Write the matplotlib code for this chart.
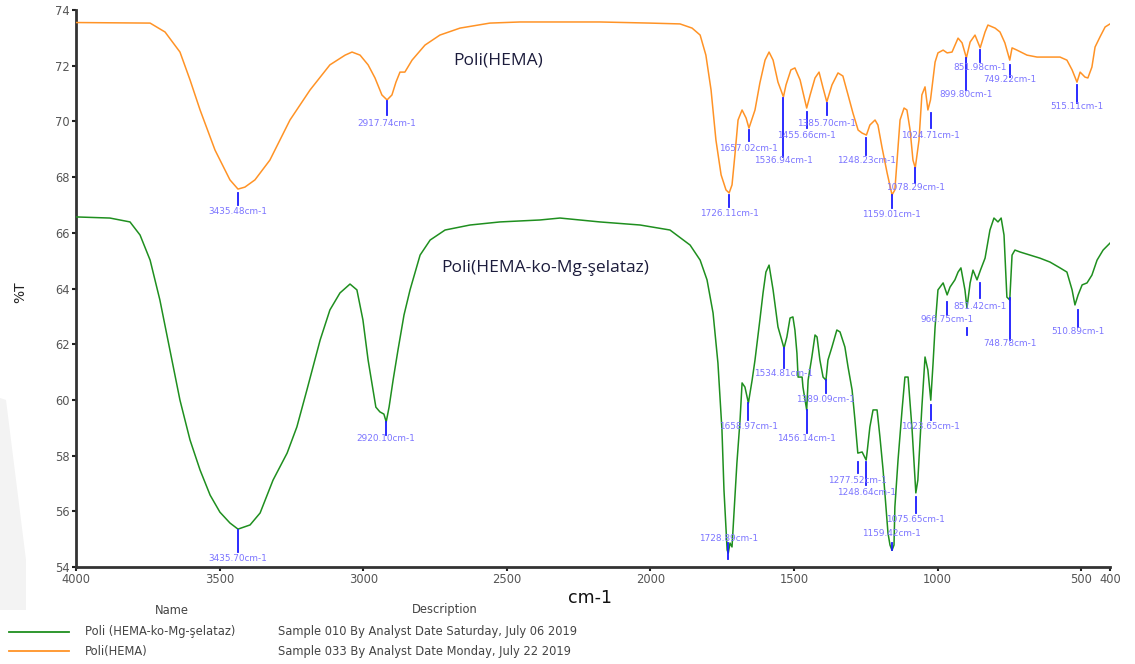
import matplotlib
matplotlib.use("Agg")
import matplotlib.pyplot as plt
from matplotlib.patches import Polygon

plt.rcParams['font.family'] = ['DejaVu Sans']

# ---------------- data ----------------
hema_wn = [4000, 3742, 3690, 3638, 3603, 3568, 3516, 3464, 3436, 3412, 3377, 3325, 3255, 3185,
           3116, 3063, 3039, 3011, 2983, 2959, 2935, 2917, 2900, 2886, 2872, 2855, 2830, 2785,
           2733, 2663, 2559, 2454, 2176, 2002, 1897, 1855, 1827, 1807, 1789, 1772, 1754, 1737,
           1726, 1716, 1706, 1695, 1681, 1667, 1657, 1636, 1619, 1601, 1587, 1573, 1556, 1537,
           1528, 1511, 1497, 1479, 1456, 1444, 1427, 1413, 1399, 1386, 1368, 1347, 1330, 1312,
           1295, 1277, 1263, 1248, 1236, 1218, 1208, 1194, 1176, 1159, 1149, 1142, 1131, 1117,
           1107, 1096, 1086, 1078, 1065, 1055, 1044, 1034, 1025, 1009, 999, 981, 967, 950, 929,
           915, 900, 887, 870, 852, 835, 825, 800, 783, 766, 749, 741, 724, 689, 654, 574, 550,
           532, 515, 504, 487, 477, 463, 452, 435, 417, 400]
hema_t = [73.55, 73.53, 73.21, 72.49, 71.49, 70.41, 68.97, 67.90, 67.57, 67.64, 67.90, 68.61,
          70.05, 71.13, 72.03, 72.38, 72.49, 72.38, 72.03, 71.56, 70.95, 70.77, 70.95, 71.41,
          71.77, 71.77, 72.20, 72.74, 73.10, 73.35, 73.53, 73.57, 73.57, 73.53, 73.50, 73.35,
          73.10, 72.38, 71.13, 69.33, 68.08, 67.54, 67.43, 67.72, 68.79, 70.05, 70.41, 70.12,
          69.76, 70.41, 71.38, 72.20, 72.49, 72.20, 71.41, 70.88, 71.31, 71.85, 71.92, 71.49,
          70.48, 70.95, 71.56, 71.77, 71.20, 70.70, 71.31, 71.74, 71.63, 70.95, 70.30, 69.69,
          69.58, 69.51, 69.87, 70.05, 69.87, 69.08, 68.15, 67.36, 67.54, 68.51, 70.05, 70.48,
          70.41, 69.69, 68.61, 68.33, 69.33, 70.95, 71.24, 70.41, 70.77, 72.13, 72.46, 72.56,
          72.46, 72.49, 72.99, 72.82, 72.28, 72.85, 73.10, 72.64, 73.21, 73.46, 73.35, 73.21,
          72.82, 72.20, 72.64, 72.56, 72.38, 72.31, 72.31, 72.20, 71.85, 71.41, 71.77, 71.59,
          71.56, 71.95, 72.67, 73.03, 73.39, 73.50]

chel_wn = [4000, 3882, 3812, 3777, 3742, 3708, 3673, 3638, 3603, 3568, 3533, 3499, 3464, 3436,
           3394, 3359, 3314, 3265, 3231, 3196, 3150, 3116, 3081, 3046, 3022, 3001, 2983, 2966,
           2956, 2942, 2928, 2920, 2910, 2896, 2879, 2858, 2837, 2802, 2767, 2715, 2628, 2524,
           2385, 2315, 2176, 2036, 1932, 1862, 1827, 1803, 1782, 1765, 1751, 1744, 1733, 1729,
           1723, 1716, 1709, 1699, 1688, 1681, 1671, 1659, 1646, 1636, 1619, 1608, 1598, 1587,
           1573, 1556, 1535, 1525, 1514, 1504, 1497, 1490, 1486, 1472, 1469, 1456, 1451, 1438,
           1427, 1420, 1410, 1399, 1389, 1382, 1368, 1351, 1340, 1323, 1312, 1298, 1288, 1278,
           1263, 1249, 1246, 1236, 1225, 1211, 1201, 1190, 1180, 1173, 1166, 1159, 1152, 1149,
           1138, 1124, 1114, 1103, 1089, 1076, 1069, 1055, 1044, 1034, 1024, 1016, 1009, 999,
           981, 967, 957, 940, 929, 919, 905, 898, 887, 877, 863, 851, 835, 818, 804, 790, 779,
           769, 759, 749, 741, 731, 713, 679, 644, 609, 574, 550, 532, 522, 511, 497, 480, 463,
           445, 424, 400]
chel_t = [66.57, 66.53, 66.39, 65.92, 65.02, 63.59, 61.79, 59.99, 58.56, 57.48, 56.58, 55.97,
          55.58, 55.36, 55.51, 55.94, 57.12, 58.09, 59.03, 60.36, 62.15, 63.23, 63.84, 64.16,
          63.95, 62.87, 61.43, 60.36, 59.74, 59.57, 59.49, 59.21, 59.74, 60.71, 61.79, 63.05,
          63.95, 65.20, 65.74, 66.10, 66.28, 66.39, 66.46, 66.53, 66.39, 66.28, 66.10, 65.56,
          65.02, 64.31, 63.12, 61.32, 58.92, 56.76, 54.61, 54.50, 54.86, 54.72, 55.94, 57.73,
          59.28, 60.61, 60.46, 59.89, 60.71, 61.43, 62.87, 63.84, 64.59, 64.84, 63.95, 62.62,
          61.86, 62.26, 62.94, 62.98, 62.51, 61.68, 60.82, 60.82, 60.46, 59.64, 60.71, 61.54,
          62.33, 62.26, 61.43, 60.82, 60.71, 61.43, 61.90, 62.51, 62.44, 61.90, 61.18, 60.36,
          59.28, 58.09, 58.13, 57.84, 58.09, 59.03, 59.64, 59.64, 58.67, 57.48, 56.15, 55.22,
          54.79, 54.60, 54.79, 56.15, 57.84, 59.64, 60.82, 60.82, 58.92, 56.66, 57.12, 59.74,
          61.54, 61.07, 59.99, 61.32, 62.62, 63.95, 64.20, 63.77, 64.05, 64.31, 64.59, 64.74,
          63.95, 63.30, 64.20, 64.66, 64.31, 64.66, 65.09, 66.10, 66.53, 66.39, 66.53, 65.92,
          63.69, 63.59, 65.20, 65.38, 65.31, 65.20, 65.09, 64.95, 64.74, 64.59, 63.95, 63.41,
          63.77, 64.13, 64.20, 64.48, 65.02, 65.38, 65.63]

# peak annotations: wavenumber, label, tick top %T, tick bottom %T, label %T
hema_peaks = [
    (3435.48, "3435.48cm-1", 67.43, 67.00, 66.75),
    (2917.74, "2917.74cm-1", 70.73, 70.23, 69.94),
    (1726.11, "1726.11cm-1", 67.36, 66.93, 66.71),
    (1657.02, "1657.02cm-1", 69.70, 69.28, 69.04),
    (1536.94, "1536.94cm-1", 70.84, 68.72, 68.61),
    (1455.66, "1455.66cm-1", 70.34, 69.76, 69.51),
    (1385.70, "1385.70cm-1", 70.66, 70.23, 69.94),
    (1248.23, "1248.23cm-1", 69.40, 68.79, 68.58),
    (1159.01, "1159.01cm-1", 67.36, 66.89, 66.67),
    (1078.29, "1078.29cm-1", 68.33, 67.79, 67.64),
    (1024.71, "1024.71cm-1", 70.30, 69.76, 69.51),
    (899.80, "899.80cm-1", 72.28, 71.13, 70.95),
    (851.98, "851.98cm-1", 72.56, 72.13, 71.92),
    (749.22, "749.22cm-1", 72.03, 71.59, 71.49),
    (515.11, "515.11cm-1", 71.31, 70.66, 70.52),
]
chel_peaks = [
    (3435.70, "3435.70cm-1", 55.33, 54.54, 54.32),
    (2920.10, "2920.10cm-1", 59.21, 58.74, 58.60),
    (1728.89, "1728.89cm-1", 54.86, 54.30, 55.01),
    (1658.97, "1658.97cm-1", 59.89, 59.28, 59.06),
    (1534.81, "1534.81cm-1", 61.86, 61.15, 60.93),
    (1456.14, "1456.14cm-1", 59.64, 58.81, 58.60),
    (1389.09, "1389.09cm-1", 60.71, 60.25, 60.03),
    (1277.52, "1277.52cm-1", 57.77, 57.38, 57.12),
    (1248.64, "1248.64cm-1", 57.77, 56.94, 56.69),
    (1159.42, "1159.42cm-1", 54.86, 54.61, 55.22),
    (1075.65, "1075.65cm-1", 56.51, 55.94, 55.72),
    (1023.65, "1023.65cm-1", 59.82, 59.28, 59.06),
    (966.75, "966.75cm-1", 63.52, 63.05, 62.87),
    (851.42, "851.42cm-1", 64.20, 63.66, 63.37),
    (899.00, "", 62.58, 62.33, 62.20),
    (748.78, "748.78cm-1", 63.66, 62.15, 62.01),
    (510.89, "510.89cm-1", 63.23, 62.62, 62.44),
]

x_ticks = [4000, 3500, 3000, 2500, 2000, 1500, 1000, 500, 400]
y_ticks = [54, 56, 58, 60, 62, 64, 66, 68, 70, 72, 74]

legend_names = ["Poli (HEMA-ko-Mg-şelataz)", "Poli(HEMA)"]
legend_desc = ["Sample 010 By Analyst Date Saturday, July 06 2019",
               "Sample 033 By Analyst Date Monday, July 22 2019"]

ORANGE = "#ff9326"
GREEN = "#1f8f1f"
TICKC = "#1a1aff"
LABC = "#7b74ff"

# ---------------- figure ----------------
W, H = 1135, 664
fig = plt.figure(figsize=(W / 100, H / 100), dpi=100)
ax = fig.add_axes([76 / W, 1 - 567 / H, (1110 - 76) / W, (567 - 10) / H])

# faint watermark wedge at left edge
fig.patches.append(Polygon([(0, 1 - 398 / H), (6 / W, 1 - 400 / H), (26 / W, 1 - 560 / H),
                            (26 / W, 1 - 610 / H), (0, 1 - 610 / H)],
                           closed=True, transform=fig.transFigure, facecolor="#f3f3f3",
                           edgecolor="none", zorder=0))

ax.plot(hema_wn, hema_t, color=ORANGE, lw=1.1, zorder=3)
ax.plot(chel_wn, chel_t, color=GREEN, lw=1.1, zorder=3)

for peaks in (hema_peaks, chel_peaks):
    for wn, lab, t0, t1, tl in peaks:
        ax.plot([wn, wn], [t0, t1], color=TICKC, lw=1.3, zorder=4)
        if lab:
            ax.text(wn, tl, lab, color=LABC, fontsize=6.4, ha="center", va="center", zorder=5)

ax.text(2531, 72.2, "Poli(HEMA)", fontsize=12.5, family=["Open Sans", "DejaVu Sans"],
        color="#1c1c3c", ha="center", va="center")
ax.text(2367, 64.74, "Poli(HEMA-ko-Mg-şelataz)", fontsize=12.5,
        family=["Open Sans", "DejaVu Sans"], color="#1c1c3c", ha="center", va="center")

ax.set_xlim(4000, 400)
ax.set_ylim(54, 74)
ax.set_xticks(x_ticks)
ax.set_xticklabels([str(v) for v in x_ticks])
ax.set_yticks(y_ticks)
for s in ("top", "right"):
    ax.spines[s].set_visible(False)
for s in ("left", "bottom"):
    ax.spines[s].set_linewidth(2)
    ax.spines[s].set_color("#333333")
ax.tick_params(axis="both", direction="out", length=3, width=1.5, color="#222222",
               labelsize=8.3, labelcolor="#555555", pad=1.5)

fig.text(20 / W, 1 - 292 / H, "%T", rotation=90, fontsize=10, color="#222222",
         ha="center", va="center")
fig.text(590 / W, 1 - 598 / H, "cm-1", fontsize=12.5, color="#111111",
         ha="center", va="center")

# legend table
fig.text(172 / W, 1 - 610 / H, "Name", fontsize=8.3, color="#444444", ha="center", va="center")
fig.text(445 / W, 1 - 610 / H, "Description", fontsize=8.3, color="#444444",
         ha="center", va="center")
for i, (col, nm, ds) in enumerate(zip([GREEN, ORANGE], legend_names, legend_desc)):
    yy = 1 - (632 + 19 * i) / H
    fig.add_artist(plt.Line2D([9 / W, 69 / W], [yy, yy], color=col, lw=1.3,
                              transform=fig.transFigure))
    fig.text(85 / W, yy, nm, fontsize=8.3, color="#444444", ha="left", va="center")
    fig.text(278 / W, yy, ds, fontsize=8.3, color="#444444", ha="left", va="center")

fig.savefig("out.png", dpi=100)
